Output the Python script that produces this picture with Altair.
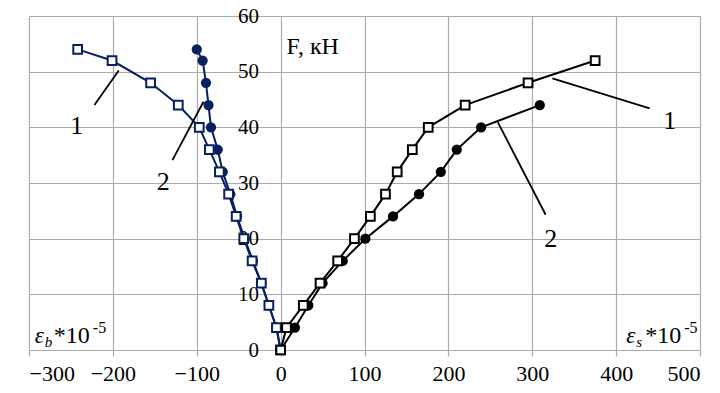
import altair as alt
import pandas as pd

# ---- data ----
# Steel strain, curve 1 (open squares) and curve 2 (filled circles)
F_s1 = [0, 4, 8, 12, 16, 20, 24, 28, 32, 36, 40, 44, 48, 52]
eps_s1 = [0, 7, 27, 47, 68, 88, 107, 125, 139, 157, 176, 220, 295, 375]
F_s2 = [0, 4, 8, 12, 16, 20, 24, 28, 32, 36, 40, 44]
eps_s2 = [0, 17, 33, 50, 74, 101, 134, 165, 191, 210, 239, 309]
# Concrete strain, curve 1 (open squares) and curve 2 (filled circles)
F_b1 = [0, 4, 8, 12, 16, 20, 24, 28, 32, 36, 40, 44, 48, 52, 54]
eps_b1 = [0, -5, -14, -23, -34, -44, -53, -62, -73, -85, -97, -122, -155, -201, -242]
F_b2 = [0, 4, 8, 12, 16, 20, 24, 28, 32, 36, 40, 44, 48, 52, 54]
eps_b2 = [0, -5, -14, -23, -33, -43, -52, -60, -69, -75, -83, -86, -89, -93, -100]

x_ticks = [-300, -200, -100, 0, 100, 200, 300, 400, 500]
y_ticks = [0, 10, 20, 30, 40, 50, 60]

# curve number labels and their leader lines
num_text = ["1", "2", "1", "2"]
num_x = [-243, -140, 464, 322]
num_y = [40.2, 30.2, 41.2, 19.9]
lead_x = [-222, -129, 324, 259]
lead_y = [44.0, 34.1, 48.8, 40.9]
lead_x2 = [-193, -92, 440, 316]
lead_y2 = [50.2, 44.6, 43.4, 24.3]

# axis-name labels
eps_sub = ["b", "s"]
eps_x = [-293, 412]
eps_y = [1.2, 1.2]
f_label = ["F, кН"]
f_x = [7]
f_y = [53.2]

BLUE = "#062060"
BLACK = "#000000"
GRID = "#ababab"
FONT = "Liberation Serif"

xs = alt.Scale(domain=[-300, 500], nice=False, zero=False)
ys = alt.Scale(domain=[0, 60], nice=False, zero=False)
x_axis = alt.Axis(values=x_ticks, title=None, grid=True, gridColor=GRID, gridWidth=1.2,
                  domainColor=GRID, domainWidth=1.2, tickColor=GRID, tickWidth=1.2, tickSize=6,
                  labelFont=FONT, labelFontSize=22, labelColor="black", labelPadding=7, format="d")
y_axis = alt.Axis(values=y_ticks, title=None, grid=True, gridColor=GRID, gridWidth=1.2,
                  domain=False, ticks=False, tickSize=0, offset=-251.6,
                  labelFont=FONT, labelFontSize=21, labelColor="black", labelPadding=22, format="d")


def X(f):
    return alt.X(f"{f}:Q", scale=xs, axis=x_axis)


def Y(f):
    return alt.Y(f"{f}:Q", scale=ys, axis=y_axis)


def series(eps, F, color, marker):
    df = pd.DataFrame({"x": eps, "y": F})
    base = alt.Chart(df).encode(x=X("x"), y=Y("y"), order=alt.Order("y:Q"))
    line = base.mark_line(color=color, strokeWidth=2)
    if marker == "square":
        pts = base.mark_point(shape="square", filled=True, fill="white", stroke=color,
                              strokeWidth=2, size=76, opacity=1)
    else:
        pts = base.mark_point(shape="circle", filled=True, fill=color, stroke=color,
                              strokeWidth=0, size=105, opacity=1)
    return [line, pts]


layers = []
layers += series(eps_b2, F_b2, BLUE, "circle")
layers += series(eps_b1, F_b1, BLUE, "square")
layers += series(eps_s2, F_s2, BLACK, "circle")
layers += series(eps_s1, F_s1, BLACK, "square")

lead_df = pd.DataFrame({"x": lead_x, "y": lead_y, "x2": lead_x2, "y2": lead_y2})
layers.append(alt.Chart(lead_df).mark_rule(color="black", strokeWidth=1.8).encode(
    x=X("x"), y=Y("y"), x2="x2:Q", y2="y2:Q"))

num_df = pd.DataFrame({"t": num_text, "x": num_x, "y": num_y})
layers.append(alt.Chart(num_df).mark_text(font=FONT, fontSize=26, color="black",
                                          align="center", baseline="middle").encode(
    x=X("x"), y=Y("y"), text="t:N"))

f_df = pd.DataFrame({"t": f_label, "x": f_x, "y": f_y})
layers.append(alt.Chart(f_df).mark_text(font=FONT, fontSize=24, color="black",
                                        align="left", baseline="alphabetic").encode(
    x=X("x"), y=Y("y"), text="t:N"))

eps_df = pd.DataFrame({"sub": eps_sub, "x": eps_x, "y": eps_y})
eb = alt.Chart(eps_df).encode(x=X("x"), y=Y("y"))
layers.append(eb.mark_text(font=FONT, fontSize=23, fontStyle="italic", color="black",
                           align="left", baseline="alphabetic", text="ε"))
layers.append(eb.mark_text(font=FONT, fontSize=15, fontStyle="italic", color="black",
                           align="left", baseline="alphabetic", dx=10, dy=4).encode(text="sub:N"))
layers.append(eb.mark_text(font=FONT, fontSize=24, color="black",
                           align="left", baseline="alphabetic", dx=19, text="*10"))
layers.append(eb.mark_text(font=FONT, fontSize=16, color="black",
                           align="left", baseline="alphabetic", dx=58, dy=-10, text="-5"))

chart = alt.layer(*layers).properties(
    width=671, height=334,
    padding={"left": 21, "top": 8, "right": 12, "bottom": 35},
    autosize=alt.AutoSizeParams(type="none"),
).configure_view(strokeWidth=0)

chart.save("out.html", embed_options={"renderer": "svg", "actions": False})
